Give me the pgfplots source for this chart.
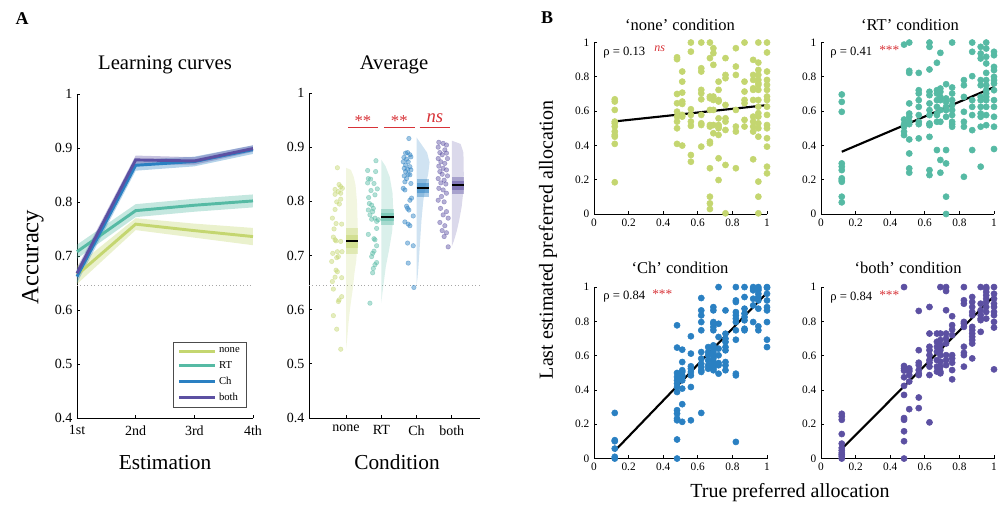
\documentclass[border=0pt]{standalone}
\usepackage{pgfplots}
\pgfplotsset{compat=1.18}
\usepackage{fontspec}
\setmainfont{Liberation Serif}

\definecolor{cnone}{RGB}{196,214,112}
\definecolor{crt}{RGB}{86,186,164}
\definecolor{cch}{RGB}{42,128,194}
\definecolor{cboth}{RGB}{92,80,162}
\definecolor{sigred}{RGB}{215,50,55}
\newcommand\fs[1]{\fontsize{#1}{#1}\selectfont}

\pgfplotsset{
  matlab/.style={
    scale only axis, anchor=south west,
    axis lines=left, axis line style={-, black, line width=0.6pt},
    tick align=inside, major tick length=2.5pt,
    tick style={black, line width=0.6pt},
    clip=false,
  },
  panelA/.style={matlab, ymin=0.4, ymax=1,
    ytick={0.4,0.5,0.6,0.7,0.8,0.9,1},
    yticklabels={0.4,0.5,0.6,0.7,0.8,0.9,1},
    ticklabel style={font=\fs{10.5}},
    xticklabel style={yshift=-2pt},
  },
  panelB/.style={matlab, xmin=0, xmax=1, ymin=0, ymax=1,
    width=129.75pt, height=128.6pt,
    xtick={0,0.2,0.4,0.6,0.8,1}, xticklabels={0,0.2,0.4,0.6,0.8,1},
    ytick={0,0.2,0.4,0.6,0.8,1}, yticklabels={0,0.2,0.4,0.6,0.8,1},
    ticklabel style={font=\fs{8.5}},
  },
  dotsB/.style={only marks, mark=*, mark size=2.3pt, color=#1, mark options={draw=#1, fill=#1}},
  dotsA/.style={only marks, mark=*, mark size=1.7pt, color=#1, mark options={draw=none, fill=#1}, opacity=0.45},
  fit/.style={black, line width=1.6pt},
}

\begin{document}
\begin{tikzpicture}
\begin{scope}[x=0.75pt,y=-0.75pt]
\useasboundingbox (0,0) rectangle (1003,508);
\end{scope}

% ---------------- A: learning curves ----------------
\begin{axis}[panelA, at={(57.75pt,-313.5pt)}, width=132pt, height=243pt,
  xmin=1, xmax=4, xtick={1,2,3,4}, xticklabels={1st,2nd,3rd,4th},
  legend style={at={(0.965,0.03)}, anchor=south east, font=\fs{8},
    draw=black!70, line width=0.6pt, inner xsep=3pt, inner ysep=2pt,
    row sep=1pt},
  legend cell align=left,
  legend image code/.code={\draw[#1, line width=2.2pt] (0pt,0pt) -- (27pt,0pt);},
]
\addplot[gray!70, dotted, line width=0.6pt, forget plot] coordinates {(1,0.645) (4,0.645)};
\addplot[fill=cnone, fill opacity=0.35, draw=none, forget plot] coordinates
  {(1,0.648) (2,0.748) (3,0.734) (4,0.720) (4,0.752) (3,0.760) (2,0.770) (1,0.682)} -- cycle;
\addplot[fill=crt, fill opacity=0.35, draw=none, forget plot] coordinates
  {(1,0.695) (2,0.772) (3,0.782) (4,0.790) (4,0.814) (3,0.806) (2,0.796) (1,0.721)} -- cycle;
\addplot[fill=cch, fill opacity=0.35, draw=none, forget plot] coordinates
  {(1,0.650) (2,0.858) (3,0.866) (4,0.889) (4,0.905) (3,0.884) (2,0.878) (1,0.674)} -- cycle;
\addplot[fill=cboth, fill opacity=0.35, draw=none, forget plot] coordinates
  {(1,0.658) (2,0.870) (3,0.869) (4,0.893) (4,0.905) (3,0.883) (2,0.886) (1,0.678)} -- cycle;
\addplot[cnone, line width=2.2pt] coordinates {(1,0.665) (2,0.759) (3,0.747) (4,0.736)};
\addlegendentry{none}
\addplot[crt, line width=2.2pt] coordinates {(1,0.708) (2,0.784) (3,0.794) (4,0.802)};
\addlegendentry{RT}
\addplot[cch, line width=2.2pt] coordinates {(1,0.662) (2,0.868) (3,0.875) (4,0.897)};
\addlegendentry{Ch}
\addplot[cboth, line width=2.2pt] coordinates {(1,0.668) (2,0.878) (3,0.876) (4,0.899)};
\addlegendentry{both}
\end{axis}

% ---------------- A: average ----------------
\begin{axis}[panelA, at={(231.75pt,-313.5pt)}, width=128.25pt, height=243.75pt,
  xmin=-0.05, xmax=4.8, xtick={1,2,3,4}, xticklabels={none,RT,Ch,both}]
\addplot[gray!70, dotted, line width=0.6pt] coordinates {(-0.05,0.645) (4.8,0.645)};
% half violins
\addplot[fill=cnone, fill opacity=0.22, draw=none] coordinates
  {(1,0.862) (1.14,0.858) (1.22,0.845) (1.27,0.83) (1.31,0.80) (1.33,0.76) (1.32,0.72)
   (1.29,0.69) (1.24,0.668) (1.19,0.637) (1.12,0.605) (1.07,0.575) (1.03,0.544) (1,0.527)} -- cycle;
\addplot[fill=crt, fill opacity=0.22, draw=none] coordinates
  {(2,0.877) (2.12,0.865) (2.24,0.845) (2.32,0.815) (2.34,0.78) (2.31,0.745) (2.22,0.71)
   (2.13,0.68) (2.07,0.65) (2.03,0.63) (2,0.612)} -- cycle;
\addplot[fill=cch, fill opacity=0.22, draw=none] coordinates
  {(3,0.918) (3.14,0.905) (3.30,0.89) (3.37,0.872) (3.33,0.85) (3.26,0.83) (3.19,0.80)
   (3.14,0.765) (3.10,0.725) (3.06,0.685) (3.03,0.66) (3,0.643)} -- cycle;
\addplot[fill=cboth, fill opacity=0.22, draw=none] coordinates
  {(4,0.912) (4.25,0.906) (4.33,0.89) (4.34,0.85) (4.33,0.82) (4.28,0.79) (4.21,0.765)
   (4.14,0.745) (4.06,0.727) (4,0.717)} -- cycle;
% CI boxes
\addplot[fill=cnone, fill opacity=0.4, draw=none] coordinates {(1,0.703) (1.35,0.703) (1.35,0.750) (1,0.750)} -- cycle;
\addplot[fill=cnone, fill opacity=0.5, draw=none] coordinates {(1,0.714) (1.35,0.714) (1.35,0.738) (1,0.738)} -- cycle;
\addplot[fill=crt, fill opacity=0.4, draw=none] coordinates {(2,0.756) (2.35,0.756) (2.35,0.786) (2,0.786)} -- cycle;
\addplot[fill=crt, fill opacity=0.5, draw=none] coordinates {(2,0.763) (2.35,0.763) (2.35,0.778) (2,0.778)} -- cycle;
\addplot[fill=cch, fill opacity=0.4, draw=none] coordinates {(3,0.808) (3.35,0.808) (3.35,0.842) (3,0.842)} -- cycle;
\addplot[fill=cch, fill opacity=0.5, draw=none] coordinates {(3,0.816) (3.35,0.816) (3.35,0.833) (3,0.833)} -- cycle;
\addplot[fill=cboth, fill opacity=0.4, draw=none] coordinates {(4,0.814) (4.35,0.814) (4.35,0.845) (4,0.845)} -- cycle;
\addplot[fill=cboth, fill opacity=0.5, draw=none] coordinates {(4,0.821) (4.35,0.821) (4.35,0.838) (4,0.838)} -- cycle;
% means
\addplot[black, line width=1.6pt] coordinates {(1,0.726) (1.35,0.726)};
\addplot[black, line width=1.6pt] coordinates {(2,0.771) (2.35,0.771)};
\addplot[black, line width=1.6pt] coordinates {(3,0.825) (3.35,0.825)};
\addplot[black, line width=1.6pt] coordinates {(4,0.830) (4.35,0.830)};
% participants
\addplot[dotsA=cnone] coordinates {
 (0.755,0.862) (0.802,0.831) (0.849,0.827) (0.689,0.822) (0.896,0.824) (0.783,0.818)
 (0.689,0.813) (0.849,0.815) (0.736,0.799) (0.811,0.795) (0.849,0.804) (0.689,0.785)
 (0.613,0.769) (0.717,0.759) (0.877,0.758) (0.660,0.749) (0.641,0.734) (0.689,0.729)
 (0.849,0.726) (0.717,0.727) (0.623,0.704) (0.755,0.707) (0.887,0.707) (0.783,0.698)
 (0.736,0.696) (0.594,0.689) (0.717,0.673) (0.755,0.670) (0.613,0.652) (0.689,0.660)
 (0.877,0.659) (0.641,0.638) (0.877,0.624) (0.783,0.615) (0.802,0.618) (0.641,0.589)
 (0.736,0.564) (0.850,0.527)};
\addplot[dotsA=crt] coordinates {
 (1.849,0.875) (1.613,0.857) (1.840,0.855) (1.632,0.842) (1.698,0.841) (1.793,0.833)
 (1.613,0.834) (1.887,0.823) (1.708,0.820) (1.821,0.812) (1.642,0.807) (1.661,0.796)
 (1.727,0.793) (1.774,0.787) (1.632,0.784) (1.755,0.781) (1.679,0.775) (1.821,0.769)
 (1.727,0.767) (1.915,0.766) (1.868,0.763) (1.868,0.750) (1.632,0.739) (1.793,0.731)
 (1.821,0.729) (1.868,0.718) (1.793,0.708) (1.755,0.704) (1.727,0.698) (1.868,0.687)
 (1.821,0.683) (1.774,0.676) (1.755,0.668) (1.679,0.612)};
\addplot[dotsA=cch] coordinates {
 (2.783,0.916) (2.746,0.890) (2.689,0.889) (2.812,0.886) (2.642,0.881) (2.840,0.882)
 (2.717,0.878) (2.623,0.873) (2.764,0.873) (2.689,0.867) (2.812,0.864) (2.651,0.861)
 (2.746,0.859) (2.840,0.858) (2.689,0.855) (2.764,0.850) (2.651,0.847) (2.812,0.849)
 (2.717,0.842) (2.670,0.836) (2.840,0.833) (2.623,0.824) (2.670,0.821) (2.859,0.806)
 (2.812,0.802) (2.717,0.791) (2.746,0.787) (2.783,0.784) (2.906,0.773) (2.670,0.762)
 (2.764,0.758) (2.812,0.755) (2.746,0.723) (2.906,0.718) (2.764,0.686) (2.925,0.641)};
\addplot[dotsA=cboth] coordinates {
 (3.632,0.909) (3.755,0.907) (3.849,0.904) (3.614,0.900) (3.802,0.895) (3.661,0.890)
 (3.849,0.889) (3.727,0.886) (3.614,0.879) (3.878,0.879) (3.689,0.873) (3.802,0.870)
 (3.632,0.865) (3.755,0.861) (3.849,0.858) (3.661,0.855) (3.727,0.850) (3.878,0.847)
 (3.614,0.842) (3.783,0.839) (3.689,0.834) (3.831,0.832) (3.632,0.824) (3.755,0.821)
 (3.849,0.815) (3.708,0.809) (3.614,0.802) (3.783,0.799) (3.680,0.787) (3.849,0.781)
 (3.755,0.775) (3.897,0.769) (3.661,0.761) (3.802,0.755) (3.727,0.746) (3.849,0.742)
 (3.783,0.735) (3.897,0.716)};
% significance
\addplot[sigred, line width=0.8pt] coordinates {(1.06,0.937) (1.90,0.937)};
\addplot[sigred, line width=0.8pt] coordinates {(2.07,0.937) (2.95,0.937)};
\addplot[sigred, line width=0.8pt] coordinates {(3.09,0.937) (3.96,0.937)};
\node[sigred, font=\fs{12.5}] at (axis cs:1.48,0.948) {**};
\node[sigred, font=\fs{12.5}] at (axis cs:2.51,0.948) {**};
\node[sigred, font=\fs{14}\itshape] at (axis cs:3.52,0.953) {ns};
\end{axis}

% ---------------- B: none ----------------
\begin{axis}[panelB, at={(445.5pt,-160.5pt)}]
\addplot[dotsB=cnone] coordinates {
 (0.12,0.669) (0.12,0.656) (0.12,0.607) (0.12,0.539) (0.12,0.529) (0.12,0.510) (0.12,0.481) (0.12,0.461) (0.12,0.451) (0.12,0.409) (0.12,0.185)
 (0.48,0.914) (0.48,0.903) (0.48,0.700) (0.48,0.646) (0.48,0.597) (0.48,0.568) (0.48,0.539) (0.48,0.500) (0.48,0.409)
 (0.51,0.831) (0.51,0.772) (0.51,0.708) (0.51,0.656) (0.51,0.642) (0.51,0.578) (0.51,0.568) (0.51,0.399)
 (0.56,1.0) (0.56,0.947) (0.56,0.611) (0.56,0.578) (0.56,0.539) (0.56,0.514) (0.56,0.344) (0.56,0.305)
 (0.62,1.0) (0.62,0.850) (0.62,0.831) (0.62,0.724) (0.62,0.704) (0.62,0.669) (0.62,0.578) (0.62,0.529) (0.62,0.519) (0.62,0.393)
 (0.67,1.0) (0.67,0.909) (0.67,0.685) (0.67,0.675) (0.67,0.607) (0.67,0.519) (0.67,0.510) (0.67,0.422) (0.67,0.412) (0.67,0.267) (0.67,0.101) (0.67,0.062) (0.67,0.029)
 (0.69,0.967) (0.69,0.938) (0.69,0.870) (0.69,0.685) (0.69,0.665) (0.69,0.607) (0.69,0.519) (0.69,0.471)
 (0.72,0.772) (0.72,0.724) (0.72,0.665) (0.72,0.656) (0.72,0.558) (0.72,0.519) (0.72,0.510) (0.72,0.500) (0.72,0.461) (0.72,0.325) (0.72,0.198)
 (0.76,0.909) (0.76,0.811) (0.76,0.792) (0.76,0.636) (0.76,0.558) (0.76,0.539) (0.76,0.490) (0.76,0.286) (0.76,0.004)
 (0.82,0.967) (0.82,0.860) (0.82,0.811) (0.82,0.607) (0.82,0.510) (0.82,0.481) (0.82,0.267)
 (0.87,1.0) (0.87,0.772) (0.87,0.714) (0.87,0.665) (0.87,0.646) (0.87,0.549) (0.87,0.510)
 (0.92,0.899) (0.92,0.811) (0.92,0.782) (0.92,0.733) (0.92,0.724) (0.92,0.665) (0.92,0.568) (0.92,0.539) (0.92,0.510) (0.92,0.481) (0.92,0.319)
 (0.95,1.0) (0.95,0.883) (0.95,0.840) (0.95,0.811) (0.95,0.782) (0.95,0.763) (0.95,0.753) (0.95,0.724) (0.95,0.665) (0.95,0.626) (0.95,0.588) (0.95,0.568) (0.95,0.529) (0.95,0.500) (0.95,0.451) (0.95,0.189) (0.95,0.101) (0.95,0.004)
 (1.0,1.0) (1.0,0.942) (1.0,0.831) (1.0,0.782) (1.0,0.753) (1.0,0.724) (1.0,0.685) (1.0,0.665) (1.0,0.626) (1.0,0.578) (1.0,0.519) (1.0,0.500) (1.0,0.442) (1.0,0.393) (1.0,0.276) (1.0,0.237)};
\addplot[fit] coordinates {(0.12,0.54) (1,0.635)};
\end{axis}

% ---------------- B: RT ----------------
\begin{axis}[panelB, at={(615.75pt,-160.5pt)}]
\addplot[dotsB=crt] coordinates {
 (0.12,0.697) (0.12,0.654) (0.12,0.596) (0.12,0.295) (0.12,0.276) (0.12,0.256) (0.12,0.208) (0.12,0.198) (0.12,0.188) (0.12,0.101) (0.12,0.068)
 (0.48,0.988) (0.48,0.551) (0.48,0.524) (0.48,0.509) (0.48,0.480) (0.48,0.460)
 (0.51,1.0) (0.51,0.835) (0.51,0.823) (0.51,0.645) (0.51,0.586) (0.51,0.567) (0.51,0.538) (0.51,0.524) (0.51,0.435) (0.51,0.353) (0.51,0.266) (0.51,0.241)
 (0.565,0.823) (0.565,0.722) (0.565,0.703) (0.565,0.664) (0.565,0.625) (0.565,0.577) (0.565,0.538) (0.565,0.524) (0.565,0.441)
 (0.627,1.0) (0.627,0.975) (0.627,0.843) (0.627,0.713) (0.627,0.693) (0.627,0.645) (0.627,0.606) (0.627,0.577) (0.627,0.528) (0.627,0.518) (0.627,0.450) (0.627,0.256) (0.627,0.227)
 (0.67,0.882) (0.67,0.722) (0.67,0.703) (0.67,0.664) (0.67,0.625) (0.67,0.586) (0.67,0.577) (0.67,0.538) (0.67,0.373)
 (0.69,0.940) (0.69,0.732) (0.69,0.713) (0.69,0.683) (0.69,0.664) (0.69,0.606) (0.69,0.538) (0.69,0.315) (0.69,0.241)
 (0.723,0.757) (0.723,0.674) (0.723,0.654) (0.723,0.625) (0.723,0.606) (0.723,0.567) (0.723,0.373) (0.723,0.295) (0.723,0.101) (0.723,0.0)
 (0.758,1.0) (0.758,0.738) (0.758,0.703) (0.758,0.664) (0.758,0.635) (0.758,0.606) (0.758,0.577) (0.758,0.538) (0.758,0.524) (0.758,0.509)
 (0.826,0.781) (0.826,0.751) (0.826,0.683) (0.826,0.596) (0.826,0.538) (0.826,0.509) (0.826,0.217)
 (0.874,1.0) (0.874,0.946) (0.874,0.804) (0.874,0.664) (0.874,0.625) (0.874,0.577) (0.874,0.489) (0.874,0.373)
 (0.923,0.975) (0.923,0.936) (0.923,0.907) (0.923,0.781) (0.923,0.751) (0.923,0.683) (0.923,0.664) (0.923,0.625) (0.923,0.586) (0.923,0.567) (0.923,0.509) (0.923,0.276)
 (0.955,1.0) (0.955,0.965) (0.955,0.917) (0.955,0.878) (0.955,0.823) (0.955,0.781) (0.955,0.751) (0.955,0.722) (0.955,0.703) (0.955,0.683) (0.955,0.664) (0.955,0.625) (0.955,0.577) (0.955,0.518)
 (1.0,0.946) (1.0,0.926) (1.0,0.858) (1.0,0.839) (1.0,0.800) (1.0,0.781) (1.0,0.761) (1.0,0.722) (1.0,0.664) (1.0,0.625) (1.0,0.567) (1.0,0.509) (1.0,0.379)};
\addplot[fit] coordinates {(0.12,0.363) (1,0.74)};
\end{axis}

% ---------------- B: Ch ----------------
\begin{axis}[panelB, at={(445.5pt,-343.9pt)}]
\addplot[dotsB=cch] coordinates {
 (0.12,0.266) (0.12,0.107) (0.12,0.101) (0.12,0.058) (0.12,0.010) (0.12,0.0)
 (0.48,0.777) (0.48,0.647) (0.48,0.499) (0.48,0.476) (0.48,0.456) (0.48,0.437) (0.48,0.417) (0.48,0.388) (0.48,0.282) (0.48,0.262) (0.48,0.233) (0.48,0.223) (0.48,0.111) (0.48,0.0)
 (0.51,0.635) (0.51,0.563) (0.51,0.515) (0.51,0.505) (0.51,0.485) (0.51,0.476) (0.51,0.456) (0.51,0.408) (0.51,0.317) (0.51,0.214)
 (0.56,0.713) (0.56,0.612) (0.56,0.538) (0.56,0.524) (0.56,0.505) (0.56,0.485) (0.56,0.417) (0.56,0.223)
 (0.62,0.936) (0.62,0.864) (0.62,0.835) (0.62,0.796) (0.62,0.748) (0.62,0.621) (0.62,0.583) (0.62,0.553) (0.62,0.534) (0.62,0.515) (0.62,0.505) (0.62,0.266)
 (0.66,0.650) (0.66,0.621) (0.66,0.602) (0.66,0.573) (0.66,0.544) (0.66,0.524)
 (0.69,0.883) (0.69,0.864) (0.69,0.796) (0.69,0.786) (0.69,0.767) (0.69,0.748) (0.69,0.660) (0.69,0.641) (0.69,0.621) (0.69,0.602) (0.69,0.583) (0.69,0.563) (0.69,0.553) (0.69,0.534) (0.69,0.524) (0.69,0.515)
 (0.72,1.0) (0.72,0.786) (0.72,0.709) (0.72,0.641) (0.72,0.602) (0.72,0.557) (0.72,0.544) (0.72,0.495)
 (0.76,0.864) (0.76,0.728) (0.76,0.699) (0.76,0.680) (0.76,0.650) (0.76,0.631) (0.76,0.563) (0.76,0.544) (0.76,0.515)
 (0.82,1.0) (0.82,0.922) (0.82,0.913) (0.82,0.854) (0.82,0.835) (0.82,0.816) (0.82,0.796) (0.82,0.748) (0.82,0.693) (0.82,0.495) (0.82,0.485) (0.82,0.097)
 (0.87,1.0) (0.87,0.942) (0.87,0.874) (0.87,0.845) (0.87,0.825) (0.87,0.806) (0.87,0.757) (0.87,0.748)
 (0.92,1.0) (0.92,0.990) (0.92,0.981) (0.92,0.932) (0.92,0.893) (0.92,0.796)
 (0.95,1.0) (0.95,0.990) (0.95,0.981) (0.95,0.961) (0.95,0.942) (0.95,0.922) (0.95,0.874) (0.95,0.771) (0.95,0.748)
 (1.0,1.0) (1.0,0.996) (1.0,0.961) (1.0,0.922) (1.0,0.883) (1.0,0.864) (1.0,0.796) (1.0,0.693) (1.0,0.650)};
\addplot[fit] coordinates {(0.12,0.045) (1,0.967)};
\end{axis}

% ---------------- B: both ----------------
\begin{axis}[panelB, at={(615.75pt,-343.9pt)}]
\addplot[dotsB=cboth] coordinates {
 (0.12,0.261) (0.12,0.246) (0.12,0.226) (0.12,0.143) (0.12,0.087) (0.12,0.062) (0.12,0.048) (0.12,0.033) (0.12,0.023) (0.12,0.014) (0.12,0.0)
 (0.48,1.0) (0.48,0.540) (0.48,0.526) (0.48,0.513) (0.48,0.474) (0.48,0.424) (0.48,0.371) (0.48,0.236) (0.48,0.226) (0.48,0.159) (0.48,0.101) (0.48,0.0)
 (0.51,0.526) (0.51,0.516) (0.51,0.507) (0.51,0.487) (0.51,0.449) (0.51,0.288)
 (0.565,0.861) (0.565,0.632) (0.565,0.559) (0.565,0.545) (0.565,0.516) (0.565,0.497) (0.565,0.487) (0.565,0.356) (0.565,0.294)
 (0.627,0.884) (0.627,0.729) (0.627,0.652) (0.627,0.632) (0.627,0.603) (0.627,0.574) (0.627,0.559) (0.627,0.536) (0.627,0.487) (0.627,0.211)
 (0.67,0.729) (0.67,0.681) (0.67,0.652) (0.67,0.623) (0.67,0.574) (0.67,0.536) (0.67,0.507)
 (0.69,1.0) (0.69,0.729) (0.69,0.691) (0.69,0.662) (0.69,0.632) (0.69,0.603) (0.69,0.565) (0.69,0.536) (0.69,0.507) (0.69,0.497)
 (0.723,1.0) (0.723,0.977) (0.723,0.865) (0.723,0.729) (0.723,0.700) (0.723,0.671) (0.723,0.603) (0.723,0.574) (0.723,0.545)
 (0.758,0.830) (0.758,0.778) (0.758,0.752) (0.758,0.720) (0.758,0.603) (0.758,0.584) (0.758,0.559) (0.758,0.516) (0.758,0.462)
 (0.826,1.0) (0.826,0.923) (0.826,0.903) (0.826,0.797) (0.826,0.787) (0.826,0.768) (0.826,0.652) (0.826,0.617) (0.826,0.603) (0.826,0.536)
 (0.874,0.942) (0.874,0.913) (0.874,0.884) (0.874,0.855) (0.874,0.836) (0.874,0.768) (0.874,0.749) (0.874,0.729) (0.874,0.710) (0.874,0.691) (0.874,0.671) (0.874,0.584)
 (0.923,1.0) (0.923,0.903) (0.923,0.865) (0.923,0.836) (0.923,0.816) (0.923,0.807) (0.923,0.739)
 (0.955,1.0) (0.955,0.990) (0.955,0.971) (0.955,0.952) (0.955,0.932) (0.955,0.913) (0.955,0.884) (0.955,0.855) (0.955,0.816)
 (1.0,1.0) (1.0,0.961) (1.0,0.932) (1.0,0.903) (1.0,0.884) (1.0,0.855) (1.0,0.836) (1.0,0.797) (1.0,0.764) (1.0,0.520)};
\addplot[fit] coordinates {(0.12,0.056) (1,0.948)};
\end{axis}

% ---------------- text ----------------
\begin{scope}[x=0.75pt,y=-0.75pt]
\node[font=\fs{13.5}\bfseries] at (22,19) {A};
\node[font=\fs{13.5}\bfseries] at (547,18) {B};
\node[font=\fs{15.5}] at (165,65) {Learning curves};
\node[font=\fs{15.5}] at (394,65) {Average};
\node[font=\fs{18.5}, rotate=90] at (33,257) {Accuracy};
\node[font=\fs{16}] at (165,463) {Estimation};
\node[font=\fs{16}] at (397,462) {Condition};
\node[font=\fs{12.4}] at (680,25) {‘none’ condition};
\node[font=\fs{12.4}] at (910,25) {‘RT’ condition};
\node[font=\fs{12.4}] at (680,268) {‘Ch’ condition};
\node[font=\fs{12.4}] at (908,268) {‘both’ condition};
\node[font=\fs{15}, rotate=90] at (548,240) {Last estimated preferred allocation};
\node[font=\fs{15}] at (790,493) {True preferred allocation};
\node[font=\fs{9.5}, anchor=west, inner sep=0pt] at (603,53) {ρ = 0.13};
\node[font=\fs{9}\itshape, sigred, anchor=west, inner sep=0pt] at (654,49) {ns};
\node[font=\fs{9.5}, anchor=west, inner sep=0pt] at (830,53) {ρ = 0.41};
\node[font=\fs{10}, sigred, anchor=west, inner sep=0pt] at (879,50) {***};
\node[font=\fs{9.5}, anchor=west, inner sep=0pt] at (603,297) {ρ = 0.84};
\node[font=\fs{10}, sigred, anchor=west, inner sep=0pt] at (652,294) {***};
\node[font=\fs{9.5}, anchor=west, inner sep=0pt] at (830,298) {ρ = 0.84};
\node[font=\fs{10}, sigred, anchor=west, inner sep=0pt] at (879,295) {***};
\end{scope}
\end{tikzpicture}
\end{document}
